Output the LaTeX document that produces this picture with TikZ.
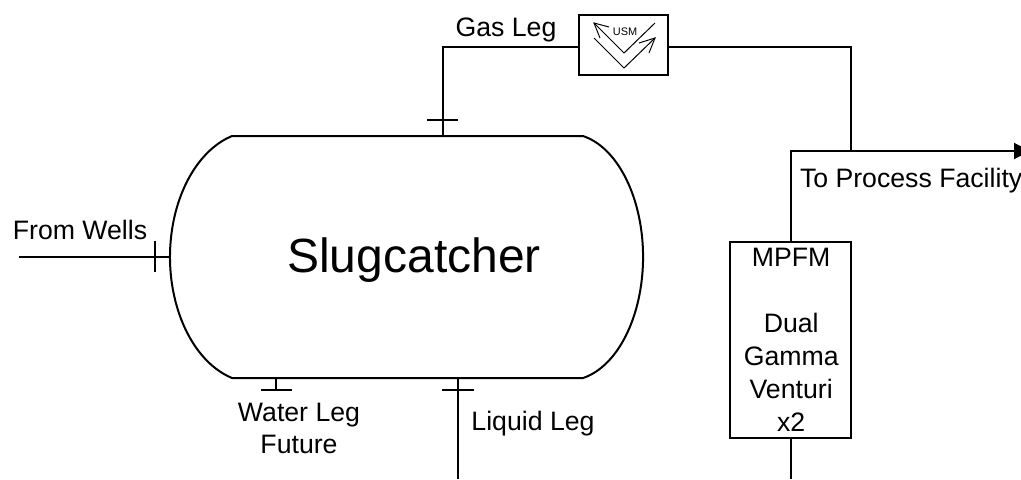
\documentclass[tikz,border=0pt]{standalone}
\usepackage{fontspec}
\setmainfont{Liberation Sans}
\usepackage{tikz}
\usetikzlibrary{positioning,arrows.meta,fit,shapes}

\begin{document}
\begin{tikzpicture}[x=0.75pt,y=-0.75pt,line width=1.5pt,
    label/.style={inner sep=0pt,font=\fontsize{20}{24}\selectfont,align=center},
    box/.style={draw,rectangle,inner sep=0pt,outer sep=0pt,anchor=north west},
    thin line/.style={line width=0.75pt}]
    \useasboundingbox (0,0) rectangle (1021,479);
    % vessel
    \node[inner sep=0pt,font=\fontsize{36}{43}\selectfont] (vessel) at (414,260) {Slugcatcher};
    \draw (232,136) -- (583,136) arc[start angle=-78.5,end angle=78.5,x radius=75,y radius=123.5]
        -- (232,378) arc[start angle=-254.3,end angle=-105.7,x radius=85,y radius=125.7];
    % boxes
    \node[box,minimum width=66.75pt,minimum height=45pt] (usm) at (579,15) {};
    \node[box,minimum width=90.75pt,minimum height=147pt] (mpfm) at (730,242) {};
    \node[label,font=\fontsize{20}{24.7}\selectfont,below=4pt of mpfm.north,xshift=0.5pt] (mpfmtext) {MPFM\\ \\Dual\\Gamma\\Venturi\\x2};
    % USM symbol
    \node[inner sep=0pt,font=\fontsize{8.2}{10}\selectfont] (usmtext) at (625,32) {USM};
    \draw[thin line] (594,38) -- (624,68) -- (655,38);
    \draw[thin line] (594,23) -- (624,53) -- (655,23);
    \draw[thin line] (609,27) -- (594,23) -- (600,38);
    \draw[thin line] (639,43) -- (655,38) -- (649,53);
    % points on the lines
    \coordinate (wells) at (19,257);
    \coordinate (wellsend) at (170,257);
    \coordinate (gasout) at (443,136);
    \coordinate (gascorner) at (443,47);
    \coordinate (gasjoin) at (851,151);
    \coordinate (gasturn) at (851,47);
    \coordinate (mpfmtop) at (790.5,242);
    \coordinate (mpfmjoin) at (790.5,151);
    \coordinate (mpfmbottom) at (790.5,438);
    \coordinate (facility) at (1030,151);
    \coordinate (mpfmin) at (790.5,479);
    \coordinate (liqout) at (458,378);
    \coordinate (liqend) at (458,479);
    \coordinate (watout) at (276,378);
    \coordinate (watend) at (276,390);
    % piping
    \draw (wells) -- (wellsend);
    \draw (gasout) -- (gascorner) -- (usm.west |- gascorner);
    \draw (usm.east |- gasturn) -- (gasturn) -- (gasjoin);
    \draw[-{Triangle[length=12pt,width=12pt]}] (mpfmtop) -- (mpfmjoin) -- (facility);
    \draw (mpfmbottom) -- (mpfmin);
    \draw (liqout) -- (liqend);
    \draw (watout) -- (watend);
    % flanges
    \draw (155,241) -- (155,272);
    \draw (427,120) -- (458,120);
    \draw (261,390) -- (292,390);
    \draw (442,390) -- (474,390);
    % labels
    \node[label] (fromwells) at (80,230) {From Wells};
    \node[label] (gasleg) at (506,30) {Gas Leg};
    \node[label,anchor=west] (process) at (799,181) {To Process Facility};
    \node[label] (waterleg) at (299,428) {Water Leg\\Future};
    \node[label] (liquidleg) at (533,424) {Liquid Leg};
\end{tikzpicture}
\end{document}
